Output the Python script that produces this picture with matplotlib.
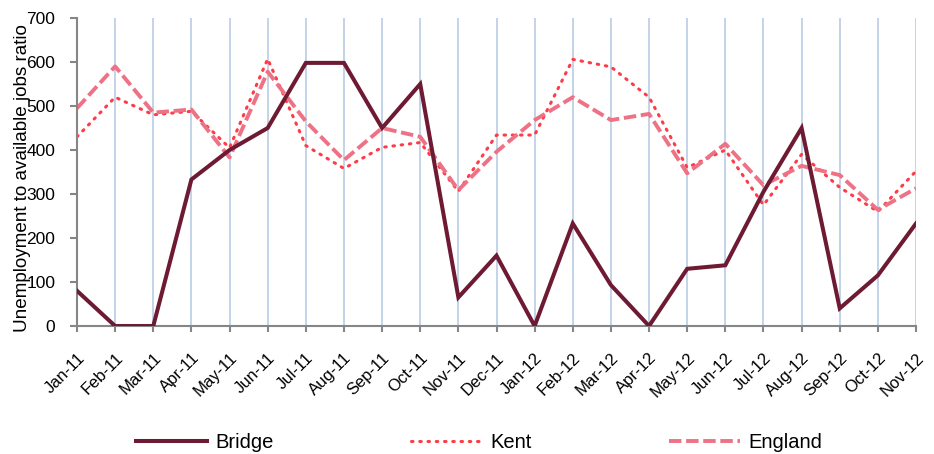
import matplotlib
matplotlib.use("Agg")
import matplotlib.pyplot as plt
from matplotlib.transforms import ScaledTranslation

plt.rcParams['font.family'] = ['Liberation Sans', 'DejaVu Sans']

months = ["Jan-11", "Feb-11", "Mar-11", "Apr-11", "May-11", "Jun-11", "Jul-11",
          "Aug-11", "Sep-11", "Oct-11", "Nov-11", "Dec-11", "Jan-12", "Feb-12",
          "Mar-12", "Apr-12", "May-12", "Jun-12", "Jul-12", "Aug-12", "Sep-12",
          "Oct-12", "Nov-12"]

bridge = [80, 0, 0, 333, 400, 450, 598, 598, 450, 550, 65, 160, 0, 233,
          93, 0, 130, 138, 305, 450, 40, 115, 233]
kent = [430, 520, 480, 488, 405, 607, 410, 358, 406, 417, 306, 434, 434, 606,
        589, 520, 360, 400, 275, 390, 315, 260, 352]
england = [495, 590, 485, 492, 383, 578, 465, 377, 450, 430, 309, 396, 468, 520,
           468, 482, 347, 414, 320, 364, 343, 264, 313]

yticks = [0, 100, 200, 300, 400, 500, 600, 700]

fig = plt.figure(figsize=(9.34, 4.54), dpi=100)
ax = fig.add_axes([77 / 934, 1 - 326 / 454, (916 - 77) / 934, (326 - 18) / 454])

x = list(range(len(months)))

for xi in x:
    ax.axvline(xi, color="#B9CDE5", lw=1.2, zorder=0)

ax.plot(x, bridge, color="#6D1A32", lw=2.9, solid_joinstyle="miter",
        label="Bridge", zorder=3)
ax.plot(x, kent, color="#FF3B47", lw=2.2, linestyle=(0, (0.5, 2.2)),
        dash_capstyle="round", label="Kent", zorder=2)
ax.plot(x, england, color="#EE7285", lw=2.8, linestyle=(0, (3.2, 1.2)),
        label="England", zorder=2)

ax.set_xlim(0, len(months) - 1)
ax.set_ylim(0, 700)
ax.set_yticks(yticks)
ax.set_xticks(x)
ax.set_xticklabels(months, rotation=45, ha="right", va="top",
                   rotation_mode="anchor", fontsize=12)

for lab in ax.get_xticklabels():
    lab.set_transform(lab.get_transform() +
                      ScaledTranslation(16 / 100, 0, fig.dpi_scale_trans))

for s in ("top", "right"):
    ax.spines[s].set_visible(False)
for s in ("left", "bottom"):
    ax.spines[s].set_color("#868686")
    ax.spines[s].set_linewidth(1.5)

ax.tick_params(axis="y", direction="out", length=5, width=1.5, color="#868686",
               labelsize=12.5, pad=10.5)
ax.tick_params(axis="x", direction="out", length=4.3, width=1.5, color="#868686",
               pad=13)

ax.set_ylabel("Unemployment to available jobs ratio", fontsize=13.6)
ax.yaxis.set_label_coords(-46 / 839, 0.5 - 6 / 308)

leg = fig.legend(loc="center", bbox_to_anchor=(479 / 934, 1 - 443 / 454), ncol=3,
                 frameon=False, fontsize=14.5, handlelength=3.55,
                 handletextpad=0.4, columnspacing=6.8)

fig.savefig("out.png", dpi=100)
